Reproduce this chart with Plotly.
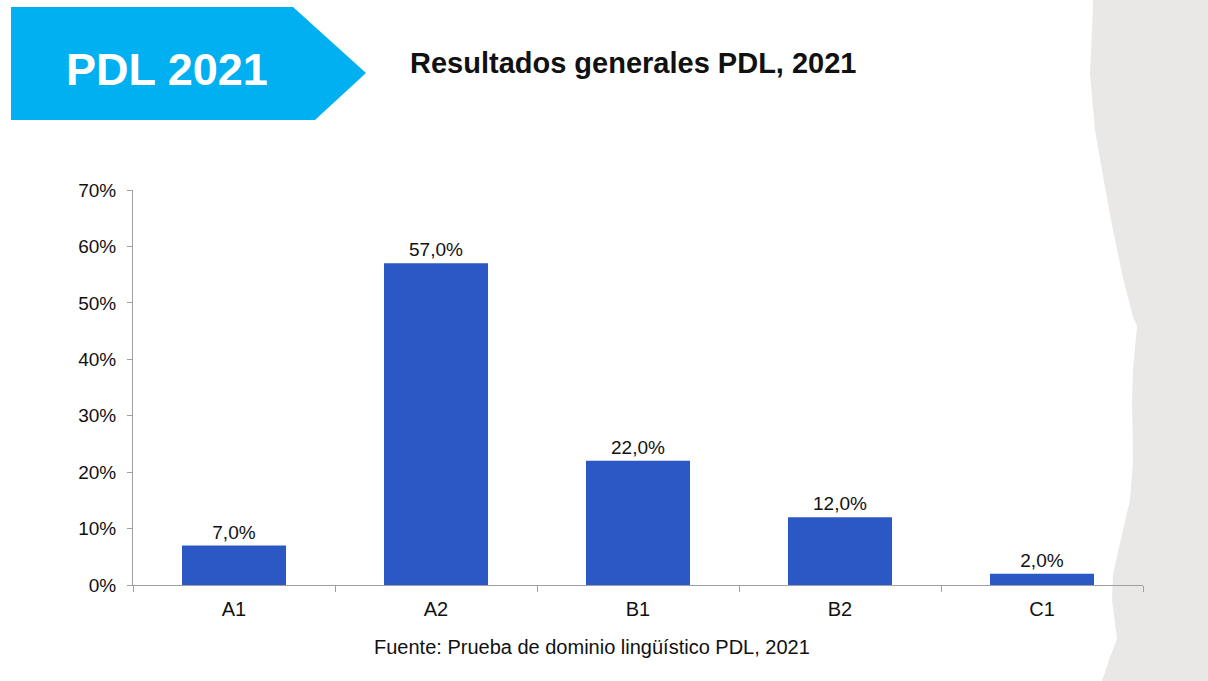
import plotly.graph_objects as go

categories = ["A1", "A2", "B1", "B2", "C1"]
values = [0.07, 0.57, 0.22, 0.12, 0.02]
title_text = "Resultados generales PDL, 2021"
banner_text = "PDL 2021"
source_text = "Fuente: Prueba de dominio lingüístico PDL, 2021"

W, H = 1208, 681
L, R, T, B = 133, 65, 190, 96
PW, PH = W - L - R, H - T - B


def px(x):
    return (x - L) / PW


def py(y):
    return (H - B - y) / PH


def path(points):
    s = "M " + " L ".join(f"{px(x):.5f},{py(y):.5f}" for x, y in points) + " Z"
    return s


gray_edge = [(1093, 0), (1093, 7), (1090, 74), (1095, 130), (1105, 187), (1113, 230),
             (1123, 278), (1133, 317), (1137, 326), (1133, 370), (1132, 400),
             (1133, 461), (1130, 500), (1120, 543), (1113, 574), (1112, 600),
             (1117, 639), (1110, 657), (1102, 681), (1208, 681), (1208, 0)]
banner = [(11, 7), (293, 7), (366, 73), (315, 120), (11, 120)]

FONT = "Liberation Sans, Arial"

fig = go.Figure()
fig.add_trace(go.Bar(
    x=categories, y=values,
    marker=dict(color="#2b58c4", line=dict(width=0)),
    texttemplate="%{y:.1%}", textposition="outside",
    textfont=dict(size=19, color="#111111", family=FONT),
    cliponaxis=False, hoverinfo="skip",
))

fig.update_layout(
    width=W, height=H,
    margin=dict(l=L, r=R, t=T, b=B),
    paper_bgcolor="white", plot_bgcolor="rgba(0,0,0,0)",
    separators=",.",
    bargap=0.485,
    showlegend=False,
    font=dict(family=FONT, size=19, color="#111111"),
    xaxis=dict(showline=True, linecolor="#a0a0a0", linewidth=1,
               ticks="outside", tickson="boundaries", ticklen=6, tickcolor="#a0a0a0",
               ticklabelstandoff=6,
               tickfont=dict(size=20), showgrid=False, zeroline=False),
    yaxis=dict(range=[0, 0.7], dtick=0.1, tickformat=".0%",
               showline=True, linecolor="#a0a0a0", linewidth=1,
               ticks="outside", ticklen=5, tickcolor="#a0a0a0",
               ticklabelstandoff=7,
               tickfont=dict(size=19), showgrid=False, zeroline=False),
    shapes=[
        dict(type="path", path=path(gray_edge), xref="paper", yref="paper",
             fillcolor="#e9e8e6", line=dict(width=0), layer="below"),
        dict(type="path", path=path(banner), xref="paper", yref="paper",
             fillcolor="#00b0f0", line=dict(width=0), layer="below"),
    ],
    annotations=[
        dict(text=f"<b>{banner_text}</b>", x=px(167), y=py(70), xref="paper", yref="paper",
             showarrow=False, font=dict(size=45, color="white", family=FONT),
             xanchor="center", yanchor="middle"),
        dict(text=f"<b>{title_text}</b>", x=px(408), y=py(63), xref="paper", yref="paper",
             showarrow=False, font=dict(size=29, color="#111111", family=FONT),
             xanchor="left", yanchor="middle"),
        dict(text=source_text, x=px(592), y=py(647), xref="paper", yref="paper",
             showarrow=False, font=dict(size=20, color="#111111", family=FONT),
             xanchor="center", yanchor="middle"),
    ],
)

fig.write_html("out.html", config={"displayModeBar": False},
               post_script="document.body.style.margin='0';document.body.style.overflow='hidden';")
